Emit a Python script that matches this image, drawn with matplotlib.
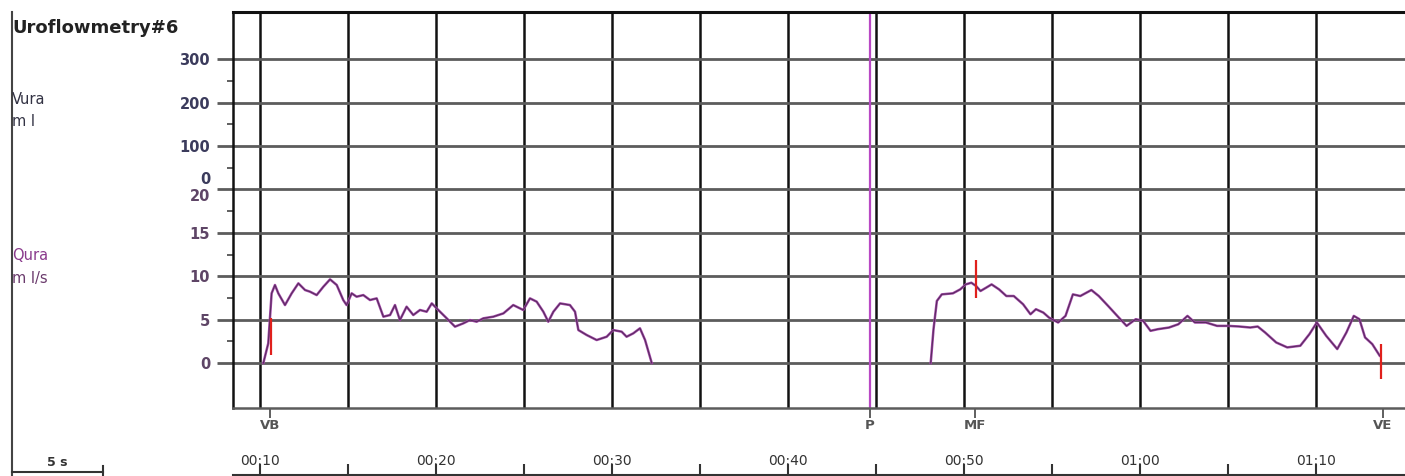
import numpy as np
import matplotlib
matplotlib.use("Agg")
import matplotlib.pyplot as plt
from matplotlib.lines import Line2D

# flow curve (time in s, Qura in ml/s), first and second void
void1_t = [10.19, 10.47, 10.66, 10.85, 11.04, 11.42, 11.80, 12.18, 12.56, 12.84, 13.22, 13.60,
           13.98, 14.36, 14.73, 14.92, 15.21, 15.49, 15.87, 16.25, 16.63, 17.01, 17.39, 17.67,
           17.95, 18.33, 18.71, 19.09, 19.47, 19.76, 20.13, 20.61, 21.08, 21.55, 21.93, 22.31,
           22.69, 23.26, 23.83, 24.39, 24.77, 24.96, 25.34, 25.72, 26.10, 26.38, 26.67, 27.05,
           27.61, 27.90, 28.09, 28.56, 29.13, 29.70, 30.07, 30.55, 30.83, 31.21, 31.59, 31.88, 32.26]
void1_q = [0.0, 2.27, 8.03, 8.99, 8.03, 6.68, 8.03, 9.18, 8.41, 8.22, 7.83, 8.79,
           9.64, 8.99, 7.26, 6.68, 8.03, 7.64, 7.83, 7.26, 7.45, 5.34, 5.53, 6.68,
           4.95, 6.49, 5.53, 6.11, 5.91, 6.87, 6.11, 5.15, 4.19, 4.57, 4.95, 4.76,
           5.15, 5.34, 5.72, 6.68, 6.30, 6.11, 7.45, 7.07, 5.91, 4.76, 5.91, 6.87,
           6.68, 5.91, 3.80, 3.23, 2.65, 3.03, 3.80, 3.61, 3.03, 3.42, 4.00, 2.65, 0.0]

void2_t = [48.11, 48.27, 48.46, 48.74, 49.37, 49.79, 50.10, 50.42, 50.69, 50.94, 51.26, 51.57,
           51.99, 52.41, 52.83, 53.36, 53.78, 54.09, 54.51, 54.83, 55.35, 55.77, 56.19, 56.61,
           57.24, 57.66, 58.19, 58.71, 59.24, 59.76, 60.18, 60.60, 61.02, 61.65, 62.18, 62.70,
           63.12, 63.75, 64.38, 65.01, 65.64, 66.27, 66.69, 67.11, 67.74, 68.37, 69.11, 69.63,
           70.05, 70.58, 71.21, 71.73, 72.15, 72.47, 72.79, 73.20, 73.62]
void2_q = [0.0, 3.90, 7.15, 7.91, 8.03, 8.49, 9.06, 9.25, 8.87, 8.30, 8.68, 9.06,
           8.49, 7.72, 7.72, 6.77, 5.62, 6.20, 5.81, 5.24, 4.67, 5.43, 7.91, 7.72,
           8.41, 7.72, 6.58, 5.43, 4.28, 5.05, 4.86, 3.71, 3.90, 4.09, 4.47, 5.43,
           4.67, 4.67, 4.28, 4.28, 4.21, 4.09, 4.21, 3.52, 2.37, 1.80, 1.99, 3.33,
           4.67, 3.14, 1.61, 3.52, 5.43, 5.05, 2.95, 2.18, 0.85]

# red marker strokes on the curve
mark_t = [10.62, 50.69, 73.68]
mark_lo = [0.9, 7.5, -1.8]
mark_hi = [5.2, 11.9, 2.2]

# event markers under the plot
event_t = [10.57, 44.66, 50.65, 73.80]
event_names = ['VB', 'P', 'MF', 'VE']
p_time = 44.66

qura_ticks = [0, 5, 10, 15, 20]
vura_ticks = [0, 100, 200, 300]
time_ticks = [10, 20, 30, 40, 50, 60, 70]
time_labels = ['00:10', '00:20', '00:30', '00:40', '00:50', '01:00', '01:10']

W, H = 1405, 476


def fx(px):
    return px / W


def fy(py):
    return 1 - py / H


def vura_pos(v):
    # volume panel sits on top of the flow panel (0 ml at 20 ml/s, 100 ml per 5 units)
    return 20 + v / 20.0


fig = plt.figure(figsize=(W / 100, H / 100), dpi=100)
fig.patch.set_facecolor('white')

ax = fig.add_axes([fx(233), fy(408), fx(1405) - fx(233), fy(12) - fy(408)])
ax.set_xlim(8.466, 75.06)
ax.set_ylim(-5.18, 40.44)
ax.set_axisbelow(True)

grid_grey = '#5c5c5c'
ax.spines['right'].set_visible(False)
ax.spines['top'].set_color('#111111')
ax.spines['top'].set_linewidth(2.2)
ax.spines['left'].set_color('#111111')
ax.spines['left'].set_linewidth(1.8)
ax.spines['bottom'].set_color(grid_grey)
ax.spines['bottom'].set_linewidth(1.8)

# vertical grid every 5 s
ax.set_xticks(np.arange(10, 75, 5), minor=True)
ax.grid(which='minor', axis='x', color='#111111', linewidth=1.8)
ax.tick_params(axis='x', which='minor', length=0)

# event ticks below the plot
ax.set_xticks(event_t)
ax.set_xticklabels(event_names, fontsize=9.5, fontweight='bold', color='#555555')
ax.tick_params(axis='x', which='major', length=7, width=1.2, color='#444444', pad=1)

# y axis: flow + volume labels
y_major = qura_ticks[:-1] + [vura_pos(v) for v in vura_ticks[1:]] + [20]
y_labels = [str(q) for q in qura_ticks[:-1]] + [str(v) for v in vura_ticks[1:]] + ['']
ax.set_yticks(y_major)
ax.set_yticklabels(y_labels, fontsize=10.5, fontweight='bold')
qcol = '#5e4566'
vcol = '#3b3b5c'
for i, lab in enumerate(ax.get_yticklabels()):
    lab.set_color(qcol if i < 4 else vcol)
ax.tick_params(axis='y', which='major', length=11.5, width=2, color=grid_grey, pad=5)
ax.grid(which='major', axis='y', color=grid_grey, linewidth=2)
ax.set_yticks(np.arange(2.5, 35, 5), minor=True)
ax.tick_params(axis='y', which='minor', length=4.5, width=1.2, color='#444444')

ax.annotate('20', xy=(0, 20), xycoords=('axes fraction', 'data'), xytext=(-16.5, -5),
            textcoords='offset points', ha='right', va='center', fontsize=10.5,
            fontweight='bold', color=qcol)
ax.annotate('0', xy=(0, 20), xycoords=('axes fraction', 'data'), xytext=(-16.5, 7.5),
            textcoords='offset points', ha='right', va='center', fontsize=10.5,
            fontweight='bold', color=vcol)

# P marker line
ax.axvline(p_time, color='#b848c4', linewidth=1.6, zorder=1.5)

# flow curve
for t, q in [(void1_t, void1_q), (void2_t, void2_q)]:
    ax.plot(t, q, color='#a448aa', linewidth=1.8, zorder=3)
    ax.plot(t, q, color='#3a2240', linewidth=0.8, alpha=0.7, zorder=3.1)
ax.vlines(mark_t, mark_lo, mark_hi, color='#e0201c', linewidth=1.6, zorder=4)

# time axis at the bottom
tax = fig.add_axes([fx(233), fy(475), fx(1405) - fx(233), 0.0001])
tax.set_xlim(ax.get_xlim())
tax.set_yticks([])
for s in ['left', 'right', 'bottom']:
    tax.spines[s].set_visible(False)
tax.spines['top'].set_color('#333333')
tax.spines['top'].set_linewidth(1.5)
tax.xaxis.tick_top()
tax.set_xticks(time_ticks)
tax.set_xticklabels(time_labels, fontsize=10, color='#333333')
tax.set_xticks(np.arange(15, 75, 10), minor=True)
tax.tick_params(axis='x', which='both', direction='out', length=8, width=1.5,
                color='#333333', pad=-3)
tax.set_facecolor('none')

# frame line and scale bar on the left
fig.add_artist(Line2D([fx(12), fx(12)], [fy(12), fy(476)], transform=fig.transFigure,
                      color='#444444', linewidth=1.5))
fig.add_artist(Line2D([fx(12), fx(103)], [fy(472), fy(472)], transform=fig.transFigure,
                      color='#333333', linewidth=1.5))
fig.add_artist(Line2D([fx(103), fx(103)], [fy(466), fy(476)], transform=fig.transFigure,
                      color='#333333', linewidth=1.5))
fig.text(fx(57), fy(462), '5 s', ha='center', va='center', fontsize=9,
         fontweight='bold', color='#333333')

# panel labels
fig.text(fx(12), fy(28), 'Uroflowmetry#6', ha='left', va='center', fontsize=13,
         fontweight='bold', color='#222222')
fig.text(fx(12), fy(100), 'Vura', ha='left', va='center', fontsize=10.5, color='#333344')
fig.text(fx(12), fy(121), 'm l', ha='left', va='center', fontsize=10.5, color='#333344')
fig.text(fx(12), fy(256), 'Qura', ha='left', va='center', fontsize=10.5, color='#8a3a8c')
fig.text(fx(12), fy(278), 'm l/s', ha='left', va='center', fontsize=10.5, color='#6a3a6c')

fig.savefig('out.png', dpi=100, facecolor='white')
